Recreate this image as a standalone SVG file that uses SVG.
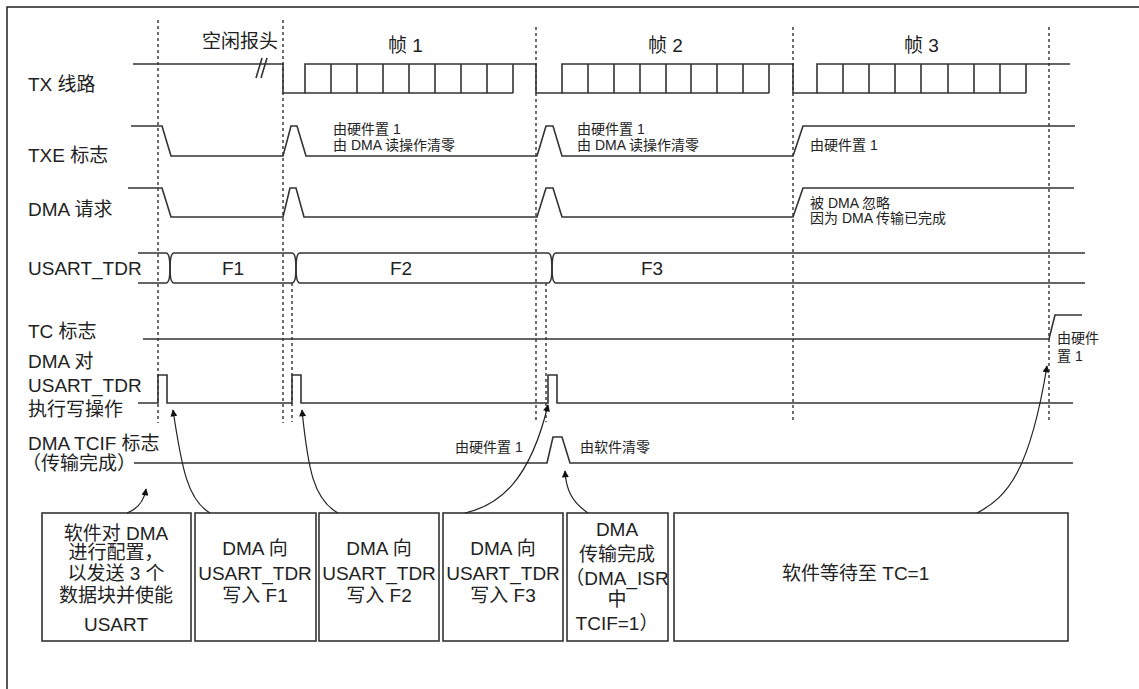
<svg xmlns="http://www.w3.org/2000/svg" width="1139" height="689" viewBox="0 0 1139 689">
<style>
.sig{fill:none;stroke:#333;stroke-width:1.6;stroke-linejoin:miter}
.dash{fill:none;stroke:#555;stroke-width:1.7;stroke-dasharray:3 3}
.t{font-family:"Liberation Sans","Noto Sans CJK SC",sans-serif;font-size:19px;fill:#222}
.a{font-family:"Liberation Sans","Noto Sans CJK SC",sans-serif;font-size:14px;fill:#222}
.m{text-anchor:middle}
.box{fill:#fff;stroke:#333;stroke-width:1.6}
.arr{fill:none;stroke:#222;stroke-width:1.2;marker-end:url(#ah)}
</style>
<defs>
<marker id="ah" viewBox="0 0 10 10" refX="9" refY="5" markerWidth="8" markerHeight="7" markerUnits="userSpaceOnUse" orient="auto">
<path d="M0,0 L10,5 L0,10 z" fill="#111"/>
</marker>
</defs>
<rect width="1139" height="689" fill="#fff"/>
<path d="M7,689 V7 H1139" fill="none" stroke="#222" stroke-width="1.5"/>

<g id="guides">
<path class="dash" d="M158,20 V423 M283,20 V423 M536,27 V423 M793,27 V422 M1049,27 V422 M292,283 V422 M546,283 V422"/>
</g>

<g id="frame-labels">
<text class="t" x="202" y="48">空闲报头</text>
<text class="t" x="388" y="52">帧 1</text>
<text class="t" x="648" y="52">帧 2</text>
<text class="t" x="904" y="52">帧 3</text>
</g>

<g id="tx-line">
<text class="t" x="28" y="91">TX 线路</text>
<path class="sig" d="M133,64 H283 V93 H305 V64 H536 V93 H562 V64 H793 V93 H817 V64 H1070"/>
<path class="sig" d="M305,93 H513 M331,64 V93 M357,64 V93 M383,64 V93 M409,64 V93 M435,64 V93 M461,64 V93 M487,64 V93 M513,64 V93"/>
<path class="sig" d="M562,93 H769 M588,64 V93 M614,64 V93 M640,64 V93 M666,64 V93 M691,64 V93 M717,64 V93 M743,64 V93 M769,64 V93"/>
<path class="sig" d="M817,93 H1026 M843,64 V93 M869,64 V93 M895,64 V93 M921,64 V93 M948,64 V93 M974,64 V93 M1000,64 V93 M1026,64 V93"/>
<path class="sig" d="M256,78 L262,58 M261,78 L267,58" stroke-width="1.2"/>
</g>

<g id="txe-flag">
<text class="t" x="28" y="162">TXE 标志</text>
<path class="sig" d="M131,126 H162 L171,156 H283 L291,126 H297 L306,156 H537 L546,126 H553 L562,156 H793 L803,126 H1075"/>
<text class="a" x="333" y="134">由硬件置 1</text>
<text class="a" x="333" y="150">由 DMA 读操作清零</text>
<text class="a" x="577" y="134">由硬件置 1</text>
<text class="a" x="577" y="150">由 DMA 读操作清零</text>
<text class="a" x="810" y="150">由硬件置 1</text>
</g>

<g id="dma-request">
<text class="t" x="28" y="216">DMA 请求</text>
<path class="sig" d="M128,188 H162 L171,217 H283 L290,188 H296 L304,217 H537 L546,188 H553 L562,217 H793 L803,188 H1074"/>
<text class="a" x="810" y="208">被 DMA 忽略</text>
<text class="a" x="810" y="223">因为 DMA 传输已完成</text>
</g>

<g id="usart-tdr">
<text class="t" x="28" y="275">USART_TDR</text>
<path class="sig" d="M138,253 H166 Q170,253 170,268 Q170,283 174,283 H292 Q296,283 296,268 Q296,253 300,253 H548 Q552,253 552,268 Q552,283 556,283 H1085"/>
<path class="sig" d="M138,283 H166 Q170,283 170,268 Q170,253 174,253 H292 Q296,253 296,268 Q296,283 300,283 H548 Q552,283 552,268 Q552,253 556,253 H1085"/>
<text class="t m" x="233" y="275">F1</text>
<text class="t m" x="401" y="275">F2</text>
<text class="t m" x="652" y="275">F3</text>
</g>

<g id="tc-flag">
<text class="t" x="28" y="338">TC 标志</text>
<path class="sig" d="M143,339 H1049 L1055,315 H1082"/>
<text class="a" x="1057" y="343">由硬件</text>
<text class="a" x="1057" y="361">置 1</text>
</g>

<g id="dma-write">
<text class="t" x="28" y="368">DMA 对</text>
<text class="t" x="28" y="392">USART_TDR</text>
<text class="t" x="28" y="416">执行写操作</text>
<path class="sig" d="M138,403 H158 V375 H167 V403 H292 V375 H301 V403 H548 V375 H557 V403 H1073"/>
</g>

<g id="dma-tcif">
<text class="t" x="28" y="450">DMA TCIF 标志</text>
<text class="t" x="22" y="470">（传输完成）</text>
<path class="sig" d="M134,463 H547 L553,437 H562 L570,463 H1073"/>
<text class="a" x="455" y="452">由硬件置 1</text>
<text class="a" x="580" y="452">由软件清零</text>
</g>

<g id="box-config">
<rect class="box" x="42" y="513" width="149" height="128"/>
<text class="t m" x="116" y="540">软件对 DMA</text>
<text class="t m" x="116" y="559">进行配置，</text>
<text class="t m" x="116" y="580">以发送 3 个</text>
<text class="t m" x="116" y="602">数据块并使能</text>
<text class="t m" x="116" y="631">USART</text>
</g>

<g id="box-f1">
<rect class="box" x="195" y="513" width="121" height="128"/>
<text class="t m" x="255" y="555">DMA 向</text>
<text class="t m" x="255" y="580">USART_TDR</text>
<text class="t m" x="255" y="602">写入 F1</text>
</g>

<g id="box-f2">
<rect class="box" x="319" y="513" width="120" height="128"/>
<text class="t m" x="379" y="555">DMA 向</text>
<text class="t m" x="379" y="580">USART_TDR</text>
<text class="t m" x="379" y="602">写入 F2</text>
</g>

<g id="box-f3">
<rect class="box" x="443" y="513" width="120" height="128"/>
<text class="t m" x="503" y="555">DMA 向</text>
<text class="t m" x="503" y="580">USART_TDR</text>
<text class="t m" x="503" y="602">写入 F3</text>
</g>

<g id="box-done">
<rect class="box" x="567" y="513" width="101" height="128"/>
<text class="t m" x="617" y="536">DMA</text>
<text class="t m" x="617" y="561">传输完成</text>
<text class="t m" x="617" y="585">（DMA_ISR</text>
<text class="t m" x="617" y="606">中</text>
<text class="t m" x="617" y="630">TCIF=1）</text>
</g>

<g id="box-wait">
<rect class="box" x="674" y="513" width="394" height="128"/>
<text class="t" x="782" y="580">软件等待至 TC=1</text>
</g>

<g id="connectors">
<path class="arr" d="M127,513 Q143,507 146,489"/>
<path class="arr" d="M210,513 C188,500 182,470 173,410"/>
<path class="arr" d="M338,513 C314,500 308,470 302,410"/>
<path class="arr" d="M465,513 C500,505 530,480 548,405"/>
<path class="arr" d="M588,513 C572,502 566,490 565,471"/>
<path class="arr" d="M977,513 C1008,497 1030,470 1047,366"/>
</g>
</svg>
